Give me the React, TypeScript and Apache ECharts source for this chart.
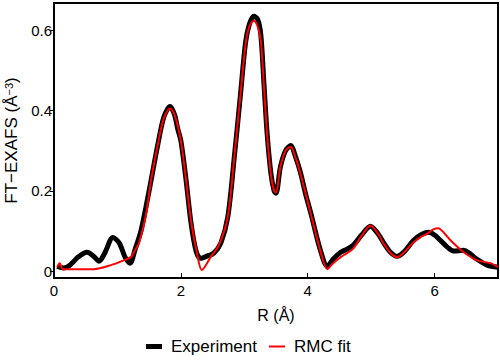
import React, { useEffect, useRef } from "react";
import * as echarts from "echarts";

const expR = [0.05, 0.15, 0.25, 0.38, 0.52, 0.62, 0.71, 0.8, 0.93, 1.03, 1.12, 1.2, 1.28, 1.37, 1.45, 1.53, 1.64, 1.73, 1.83, 1.9, 1.95, 2.0, 2.08, 2.16, 2.24, 2.31, 2.42, 2.52, 2.63, 2.74, 2.84, 2.94, 3.02, 3.08, 3.15, 3.21, 3.26, 3.31, 3.36, 3.42, 3.47, 3.5, 3.57, 3.65, 3.73, 3.81, 3.89, 3.97, 4.05, 4.2, 4.31, 4.4, 4.52, 4.62, 4.72, 4.85, 4.99, 5.1, 5.2, 5.3, 5.41, 5.52, 5.67, 5.8, 5.91, 6.0, 6.09, 6.2, 6.3, 6.46, 6.55, 6.62, 6.83, 7.0];
const expV = [0.012, 0.008, 0.015, 0.035, 0.047, 0.038, 0.025, 0.045, 0.084, 0.07, 0.035, 0.02, 0.055, 0.1, 0.16, 0.226, 0.318, 0.383, 0.41, 0.39, 0.355, 0.325, 0.23, 0.12, 0.05, 0.032, 0.038, 0.045, 0.07, 0.135, 0.28, 0.44, 0.57, 0.615, 0.635, 0.628, 0.59, 0.467, 0.343, 0.243, 0.2, 0.194, 0.26, 0.3, 0.313, 0.284, 0.243, 0.19, 0.144, 0.052, 0.012, 0.03, 0.047, 0.055, 0.065, 0.09, 0.112, 0.095, 0.07, 0.048, 0.037, 0.048, 0.077, 0.092, 0.097, 0.09, 0.077, 0.06, 0.05, 0.052, 0.045, 0.035, 0.015, 0.01];

const fitR = [0.05, 0.09, 0.14, 0.3, 0.63, 0.9, 1.1, 1.21, 1.27, 1.34, 1.45, 1.53, 1.64, 1.73, 1.83, 1.9, 2.0, 2.08, 2.16, 2.26, 2.33, 2.47, 2.6, 2.74, 2.84, 2.94, 3.02, 3.08, 3.15, 3.21, 3.26, 3.31, 3.36, 3.42, 3.47, 3.5, 3.57, 3.65, 3.73, 3.81, 3.89, 4.05, 4.2, 4.31, 4.4, 4.52, 4.62, 4.72, 4.85, 4.99, 5.1, 5.2, 5.3, 5.41, 5.52, 5.67, 5.78, 5.89, 5.98, 6.06, 6.15, 6.25, 6.35, 6.46, 6.67, 6.88, 7.0];
const fitV = [0.01, 0.02, 0.005, 0.005, 0.005, 0.015, 0.027, 0.035, 0.05, 0.07, 0.14, 0.226, 0.318, 0.38, 0.405, 0.39, 0.325, 0.23, 0.125, 0.04, 0.003, 0.035, 0.065, 0.135, 0.28, 0.44, 0.565, 0.61, 0.624, 0.61, 0.575, 0.46, 0.34, 0.24, 0.2, 0.196, 0.26, 0.3, 0.31, 0.282, 0.24, 0.142, 0.05, 0.005, 0.02, 0.035, 0.045, 0.057, 0.088, 0.114, 0.095, 0.068, 0.046, 0.035, 0.047, 0.072, 0.085, 0.094, 0.104, 0.107, 0.095, 0.077, 0.062, 0.047, 0.027, 0.02, 0.01];

const xTicks = [0, 2, 4, 6];
const yTicks = [0, 0.2, 0.4, 0.6];
const seriesNames = ["Experiment", "RMC fit"];

const FONT = "'Liberation Sans', Arial, sans-serif";

export default function App() {
  const ref = useRef<HTMLDivElement>(null);
  useEffect(() => {
    if (!ref.current) return;
    const chart = echarts.init(ref.current, null, { renderer: "svg" });
    const expData = expR.map((r, i) => [r, expV[i]]);
    const fitData = fitR.map((r, i) => [r, fitV[i]]);
    chart.setOption({
      animation: false,
      textStyle: { fontFamily: FONT },
      grid: {
        left: 54,
        right: 2,
        top: 3,
        bottom: 84,
        show: true,
        outerBoundsMode: "none",
        containLabel: false,
        borderColor: "#000",
        borderWidth: 2,
        backgroundColor: "transparent",
      },
      legend: {
        left: 146,
        top: 338,
        padding: 0,
        itemWidth: 16,
        itemHeight: 5,
        itemGap: 12,
        textStyle: { fontFamily: FONT, fontSize: 17, color: "#000", padding: [0, 0, 0, 4] },
        data: [
          { name: seriesNames[0], icon: "rect", itemStyle: { color: "#000" } },
          {
            name: seriesNames[1],
            icon: "path://M0,0M0,1.5H16V3.5H0ZM16,5",
            itemStyle: { color: "#ff0000" },
          },
        ],
      },
      xAxis: {
        type: "value",
        min: 0,
        max: 7,
        name: "R (Å)",
        nameLocation: "middle",
        nameGap: 29,
        nameTextStyle: { fontFamily: FONT, fontSize: 16, color: "#000" },
        axisLine: { show: true, onZero: false, lineStyle: { color: "#000", width: 2 } },
        axisTick: { show: true, inside: true, length: 5, customValues: xTicks, lineStyle: { color: "#000", width: 1 } },
        axisLabel: { customValues: xTicks, fontFamily: FONT, fontSize: 15, color: "#000", margin: 5 },
        splitLine: { show: false },
      },
      yAxis: {
        type: "value",
        min: -0.017,
        max: 0.668,
        name: "FT−EXAFS (Å{sup|−3})",
        nameLocation: "middle",
        nameGap: 33,
        nameTextStyle: {
          fontFamily: FONT,
          fontSize: 17,
          color: "#000",
          rich: { sup: { fontFamily: FONT, fontSize: 11, color: "#000", verticalAlign: "top", lineHeight: 10 } },
        },
        axisLine: { show: true, onZero: false, lineStyle: { color: "#000", width: 2 } },
        axisTick: { show: true, inside: false, length: 4, customValues: yTicks, lineStyle: { color: "#000", width: 1 } },
        axisLabel: {
          customValues: yTicks,
          fontFamily: FONT,
          fontSize: 15,
          color: "#000",
          margin: 2,
          formatter: (v: number) => (v === 0 ? "0" : v.toFixed(1)),
        },
        splitLine: { show: false },
      },
      series: [
        {
          name: seriesNames[0],
          type: "line",
          data: expData,
          smooth: 0.3,
          showSymbol: false,
          lineStyle: { color: "#000", width: 5 },
          itemStyle: { color: "#000" },
          z: 2,
        },
        {
          name: seriesNames[1],
          type: "line",
          data: fitData,
          smooth: 0.3,
          showSymbol: false,
          lineStyle: { color: "#ff0000", width: 2 },
          itemStyle: { color: "#ff0000" },
          z: 3,
        },
      ],
    });
    return () => chart.dispose();
  }, []);
  return <div ref={ref} style={{ width: 500, height: 362, position: "absolute", left: 0, top: 0 }} />;
}
